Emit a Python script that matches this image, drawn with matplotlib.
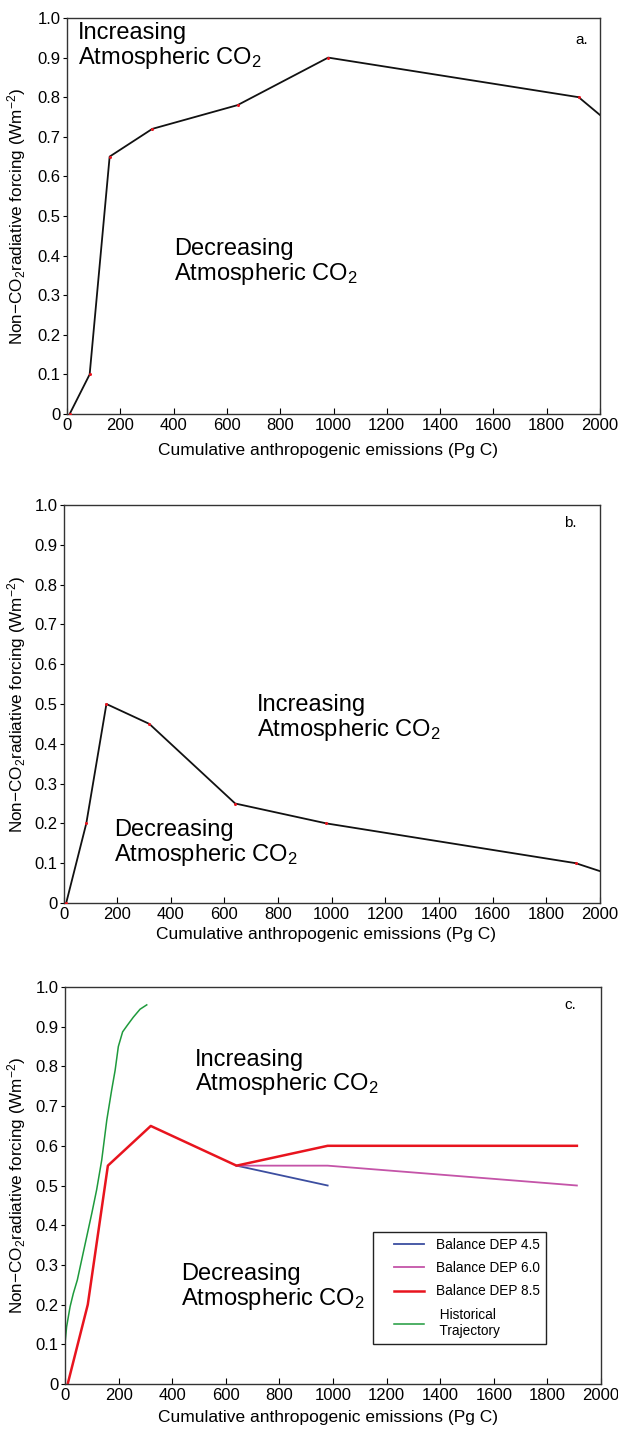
import matplotlib
matplotlib.use("Agg")
import matplotlib.pyplot as plt
from matplotlib.patches import Rectangle

plt.rcParams['font.family'] = ['Liberation Sans', 'DejaVu Sans']
plt.rcParams['mathtext.fontset'] = 'custom'
plt.rcParams['mathtext.rm'] = 'Liberation Sans'
plt.rcParams['mathtext.it'] = 'Liberation Sans:italic'

# panel a
emis_a = [10, 85, 160, 320, 640, 980, 1920]
force_a = [0.0, 0.1, 0.65, 0.72, 0.78, 0.9, 0.8]
tail_a = ([1920, 2000], [0.8, 0.755])

# panel b
emis_b = [10, 85, 160, 320, 640, 980, 1910]
force_b = [0.0, 0.2, 0.5, 0.45, 0.25, 0.2, 0.1]
tail_b = ([1910, 2000], [0.1, 0.08])

# panel c
emis_c = [10, 85, 160, 320, 640, 980, 1910]
dep85 = [0.0, 0.2, 0.55, 0.65, 0.55, 0.6, 0.6]
emis_45 = [640, 980]
dep45 = [0.55, 0.5]
emis_60 = [640, 980, 1910]
dep60 = [0.55, 0.55, 0.5]
hist_emis = [0, 6, 19, 31, 46, 62, 81, 100, 118, 137, 156, 174, 187, 199, 215, 233, 255, 280, 305]
hist_force = [0.102, 0.144, 0.195, 0.228, 0.262, 0.312, 0.371, 0.43, 0.489, 0.564,
              0.665, 0.74, 0.79, 0.85, 0.887, 0.904, 0.924, 0.944, 0.955]

xticks = list(range(0, 2001, 200))
yticks = [round(0.1 * i, 1) for i in range(11)]
ytick_labels = ['0'] + ['%.1f' % v for v in yticks[1:]]

CO2 = r'CO$_\mathregular{2}$'
ylab = 'Non\u2212CO$_\\mathregular{2}$radiative forcing (Wm$^\\mathregular{-2}$)'
xlab = 'Cumulative anthropogenic emissions (Pg C)'

fig = plt.figure(figsize=(6.18, 14.33), dpi=100)
W, H = 618, 1433


def make_axes(left, right, top, bottom):
    return fig.add_axes([left / W, 1 - bottom / H, (right - left) / W, (bottom - top) / H])


def style(ax, xlab_y, ylab_x):
    ax.set_xlim(0, 2000)
    ax.set_ylim(0, 1.0)
    ax.set_xticks(xticks)
    ax.set_yticks(yticks)
    ax.set_yticklabels(ytick_labels)
    ax.tick_params(axis='x', direction='in', length=4, pad=3, labelsize=12)
    ax.tick_params(axis='y', direction='out', length=3, pad=1.5, labelsize=12)
    for s in ax.spines.values():
        s.set_linewidth(1.0)
        s.set_color('#333333')
    ax.set_ylabel(ylab, fontsize=12.3)
    ax.yaxis.set_label_coords(ylab_x, 0.5)
    ax.set_xlabel(xlab, fontsize=12.5)
    ax.xaxis.set_label_coords(0.49, xlab_y)


ann = dict(fontsize=17, va='top', ha='left', linespacing=1.05)

# ---- a ----
ax = make_axes(67, 600, 18, 414)
ax.plot(emis_a, force_a, color='#111111', lw=1.3, zorder=2)
ax.plot(*tail_a, color='#111111', lw=1.3, zorder=2)
ax.plot(emis_a, force_a, 'o', color='#e8141e', ms=2.2, mew=0, zorder=3)
ax.text(41, 0.99, 'Increasing\nAtmospheric ' + CO2, **ann)
ax.text(401, 0.445, 'Decreasing\nAtmospheric ' + CO2, **ann)
ax.text(1906, 0.944, 'a.', fontsize=11, va='center', ha='left')
style(ax, -0.072, -0.073)

# ---- b ----
ax = make_axes(63.5, 600, 505, 903)
ax.plot(emis_b, force_b, color='#111111', lw=1.3, zorder=2)
ax.plot(*tail_b, color='#111111', lw=1.3, zorder=2)
ax.plot(emis_b, force_b, 'o', color='#e8141e', ms=2.2, mew=0, zorder=3)
ax.text(721, 0.525, 'Increasing\nAtmospheric ' + CO2, **ann)
ax.text(188, 0.21, 'Decreasing\nAtmospheric ' + CO2, **ann)
ax.text(1865, 0.955, 'b.', fontsize=11, va='center', ha='left')
style(ax, -0.060, -0.066)

# ---- c ----
ax = make_axes(65, 601, 987, 1384)
ax.plot(emis_45, dep45, color='#3c4ea0', lw=1.3, label='Balance DEP 4.5')
ax.plot(emis_60, dep60, color='#c454a8', lw=1.3, label='Balance DEP 6.0')
ax.plot(emis_c, dep85, color='#e8141e', lw=1.8, label='Balance DEP 8.5')
ax.plot(hist_emis, hist_force, color='#1e9a3c', lw=1.1, label=' Historical\n Trajectory')
ax.text(485, 0.845, 'Increasing\nAtmospheric ' + CO2, **ann)
ax.text(433, 0.305, 'Decreasing\nAtmospheric ' + CO2, **ann)
ax.text(1865, 0.955, 'c.', fontsize=11, va='center', ha='left')
ax.add_patch(Rectangle((0.5746, 0.1008), 0.3224, 0.2822, transform=ax.transAxes,
                       fill=False, edgecolor='#222222', lw=1.0, zorder=4))
ax.legend(loc='upper left', bbox_to_anchor=(0.614, 0.368), fontsize=9.8,
          frameon=False, handlelength=2.2, handletextpad=0.9, borderpad=0,
          labelspacing=0.68, borderaxespad=0)
style(ax, -0.066, -0.069)

fig.savefig('out.png', dpi=100)
